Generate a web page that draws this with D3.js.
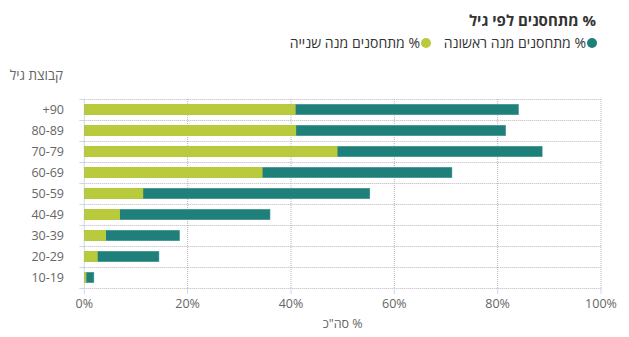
<!DOCTYPE html>
<html><head><meta charset="utf-8">
<script src="https://cdn.jsdelivr.net/npm/d3@7"></script>
<style>
body{margin:0;background:#fff;}
svg text{font-family:"Open Sans","Noto Sans","DejaVu Sans",sans-serif;}
</style></head>
<body><svg id="c" width="629" height="337"></svg>
<script>
const categories = ["+90","80-89","70-79","60-69","50-59","40-49","30-39","20-29","10-19"];
const firstDose  = [84.1, 81.6, 88.7, 71.2, 55.3, 36.0, 18.5, 14.5, 1.9];
const secondDose = [40.9, 41.0, 49.0, 34.5, 11.4, 6.9, 4.2, 2.6, 0.4];
const xTicks = [0,20,40,60,80,100];
const seriesNames = ["% מתחסנים מנה ראשונה","% מתחסנים מנה שנייה"];
const colors = ["#1f7f7a","#b9cb3c"];
const titleText = "% מתחסנים לפי גיל";
const yTitle = "קבוצת גיל";
const xTitle = "% סה\"כ";

const svg = d3.select("#c");
const L=84.3, R=601, T=99, B=288;
const x = d3.scaleLinear().domain([0,100]).range([L,R]);
const y = d3.scaleBand().domain(categories).range([T,B]).paddingInner(0.48).paddingOuter(0.24);
const step = y.step();

// grid verticals
svg.append("g").selectAll("line").data(xTicks).join("line")
  .attr("x1",d=>x(d)).attr("x2",d=>x(d)).attr("y1",T).attr("y2",B)
  .attr("stroke",d=>d===0?"#ccd6eb":"#bdb3bd").attr("stroke-dasharray",d=>d===0?null:"1,1");
// horizontal band boundaries
const bounds = d3.range(categories.length+1).map(i=>T+i*step);
svg.append("g").selectAll("line").data(bounds).join("line")
  .attr("x1",L).attr("x2",R).attr("y1",d=>Math.round(d)+0.5).attr("y2",d=>Math.round(d)+0.5)
  .attr("stroke","#bdb3bd").attr("stroke-dasharray","1,1");
// left ticks
svg.append("g").selectAll("line").data(bounds).join("line")
  .attr("x1",L-5).attr("x2",L).attr("y1",d=>Math.round(d)+0.5).attr("y2",d=>Math.round(d)+0.5)
  .attr("stroke","#ccd6eb");
// bottom ticks
svg.append("g").selectAll("line").data(xTicks).join("line")
  .attr("x1",d=>x(d)).attr("x2",d=>x(d)).attr("y1",B).attr("y2",B+6)
  .attr("stroke","#ccd6eb");

// bars (overlapping)
const g = svg.append("g");
g.selectAll("rect.a").data(categories).join("rect").attr("class","a")
  .attr("x",x(0)).attr("y",d=>y(d)).attr("height",y.bandwidth())
  .attr("width",(d,i)=>x(firstDose[i])-x(0)).attr("fill",colors[0])
  .attr("stroke","rgba(255,255,255,0.35)").attr("stroke-width",1);
g.selectAll("rect.b").data(categories).join("rect").attr("class","b")
  .attr("x",x(0)).attr("y",d=>y(d)).attr("height",y.bandwidth())
  .attr("width",(d,i)=>x(secondDose[i])-x(0)).attr("fill",colors[1]);

// y labels
svg.append("g").selectAll("text").data(categories).join("text")
  .attr("x",64).attr("y",d=>y(d)+y.bandwidth()/2).attr("dy","0.35em")
  .attr("text-anchor","end").attr("font-size",12.5).attr("fill","#666").text(d=>d);
// x labels
svg.append("g").selectAll("text").data(xTicks).join("text")
  .attr("x",d=>x(d)).attr("y",308).attr("text-anchor","middle")
  .attr("font-size",12.5).attr("fill","#666").text(d=>d+"%");

// titles
svg.append("text").attr("x",596).attr("y",26).attr("direction","rtl").attr("text-anchor","start")
  .attr("font-size",15).attr("font-weight","bold").attr("fill","#333").text(titleText);
svg.append("text").attr("x",63).attr("y",80).attr("direction","rtl").attr("text-anchor","start")
  .attr("font-size",13.5).attr("fill","#666").text(yTitle);
svg.append("text").attr("x",x(50)).attr("y",328).attr("direction","rtl").attr("text-anchor","middle")
  .attr("font-size",12.5).attr("fill","#666").text(xTitle);

// legend
const legX = [592, 426];
seriesNames.forEach((n,i)=>{
  svg.append("circle").attr("cx",legX[i]).attr("cy",43).attr("r",5).attr("fill",colors[i]);
  svg.append("text").attr("x",legX[i]-6).attr("y",48).attr("direction","rtl").attr("text-anchor","start")
    .attr("font-size",14).attr("fill","#333").text(n);
});
</script></body></html>
